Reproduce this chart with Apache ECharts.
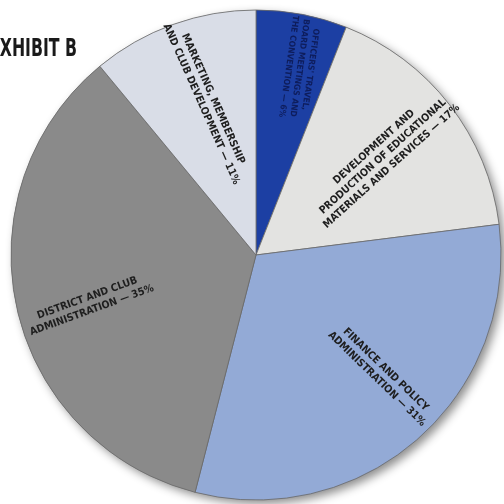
<!DOCTYPE html>
<html>
<head>
<meta charset="utf-8">
<script src="https://cdn.jsdelivr.net/npm/echarts@6/dist/echarts.min.js"></script>
<style>
html,body{margin:0;padding:0;background:#ffffff;}
#chart{width:504px;height:504px;}
</style>
</head>
<body>
<div id="chart"></div>
<script>
// Data (clockwise from 12 o'clock)
const categories = [
  "OFFICERS' TRAVEL,\nBOARD MEETINGS AND\nTHE CONVENTION \u2014 6%",
  "DEVELOPMENT AND\nPRODUCTION OF EDUCATIONAL\nMATERIALS AND SERVICES \u2014 17%",
  "FINANCE AND POLICY\nADMINISTRATION \u2014 31%",
  "DISTRICT AND CLUB\nADMINISTRATION \u2014 35%",
  "MARKETING, MEMBERSHIP\nAND CLUB DEVELOPMENT \u2014 11%"
];
const values = [6, 17, 31, 35, 11];
const titleText = "EXHIBIT B";

// Styles
const sliceColors = ['#1c3fa3', '#e3e3e1', '#93aad6', '#8a8a8a', '#d9dde7'];
const labelColors = ['#0e1d5c', '#1e1e1e', '#1e1e1e', '#1e1e1e', '#1e1e1e'];
const labelRotate = [-98, 42, -44, 20, -66];
const labelSize = [8.5, 10.5, 10.5, 10.5, 10.5];
const labelOffset = [[-31, -9], [0, 0], [13, -14], [-14, 10], [0, -6]];
const FONT = "'DejaVu Sans Condensed', 'Liberation Sans Narrow', sans-serif";

const center = [256, 255];
const R = 245;

const chart = echarts.init(document.getElementById('chart'), null, {renderer: 'canvas'});
chart.setOption({
  backgroundColor: '#ffffff',
  animation: false,
  graphic: [{
    type: 'text',
    x: -11, y: 49,
    scaleX: 0.7,
    style: {
      text: titleText,
      font: "bold 25px " + FONT,
      fill: '#1a1a1a',
      verticalAlign: 'middle',
      align: 'left'
    },
    z: 10
  }],
  series: [
    {
      // shadow disc
      type: 'pie', silent: true, center: center, radius: [0, R],
      startAngle: 90, label: {show: false}, labelLine: {show: false},
      data: [{value: 1, itemStyle: {color: '#8a8a8a', shadowBlur: 10, shadowColor: 'rgba(0,0,0,0.45)', shadowOffsetX: 4, shadowOffsetY: 4}}],
      z: 1
    },
    {
      type: 'pie', silent: true, center: center, radius: [0, R],
      startAngle: 90, clockwise: true,
      label: {show: false}, labelLine: {show: false},
      itemStyle: {borderColor: '#6a6a6a', borderWidth: 0.8},
      data: values.map((v, i) => ({name: categories[i], value: v, itemStyle: {color: sliceColors[i]}})),
      z: 2
    },
    {
      // label layer
      type: 'pie', silent: true, center: center, radius: [70, R],
      startAngle: 90, clockwise: true,
      itemStyle: {color: 'rgba(0,0,0,0)', borderWidth: 0},
      labelLine: {show: false},
      label: {show: true, position: 'inside', fontFamily: FONT, fontWeight: 'bold', fontSize: 10.5, lineHeight: 13},
      data: values.map((v, i) => ({
        name: categories[i], value: v,
        label: {color: labelColors[i], rotate: labelRotate[i], offset: labelOffset[i], fontSize: labelSize[i], lineHeight: labelSize[i] + 2.5, formatter: '{b}'}
      })),
      z: 3
    }
  ]
});
</script>
</body>
</html>
